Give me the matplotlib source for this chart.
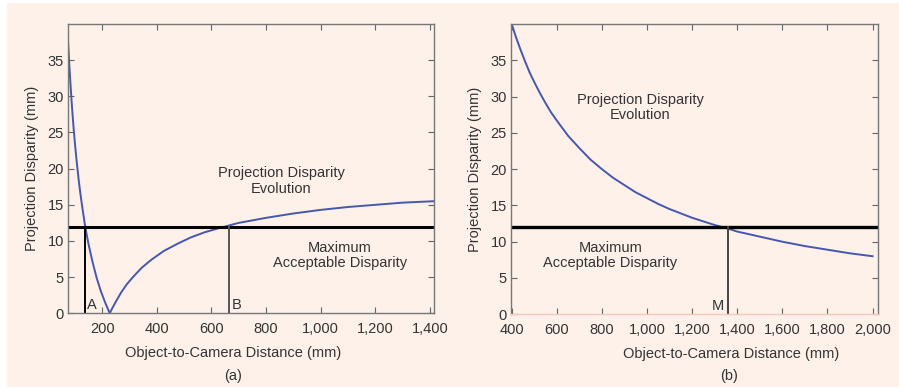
import numpy as np
import matplotlib
matplotlib.use("Agg")
import matplotlib.pyplot as plt
from matplotlib.patches import Rectangle

plt.rcParams['font.family'] = ['Liberation Sans', 'DejaVu Sans']

# panel (a): disparity vs distance, V shaped
dist_a = [75, 80, 85, 90, 95, 100, 105, 110, 115, 120, 125, 130, 136, 140,
          150, 165, 180, 195, 210, 220, 228, 235, 250, 270, 290, 315, 345,
          380, 425, 475, 525, 575, 630, 700, 800, 900, 1000, 1100, 1200,
          1300, 1415]
disp_a = [37.8, 34.3, 31.2, 28.4, 25.9, 23.7, 21.7, 19.9, 18.2, 16.7, 15.3,
          14.0, 12.5, 11.6, 9.6, 7.1, 4.9, 3.1, 1.6, 0.7, 0.0, 0.55, 1.6,
          2.9, 4.0, 5.1, 6.3, 7.4, 8.6, 9.6, 10.5, 11.2, 11.8, 12.5, 13.2,
          13.8, 14.3, 14.7, 15.0, 15.3, 15.5]

# panel (b): decreasing disparity
dist_b = [400, 420, 440, 460, 480, 500, 525, 550, 575, 600, 650, 700, 750,
          800, 850, 900, 950, 1000, 1050, 1100, 1150, 1200, 1250, 1300, 1360,
          1400, 1500, 1600, 1700, 1800, 1900, 2000]
disp_b = [40.0, 38.1, 36.4, 34.8, 33.3, 32.0, 30.5, 29.1, 27.8, 26.7, 24.6,
          22.9, 21.3, 20.0, 18.8, 17.8, 16.8, 16.0, 15.2, 14.5, 13.9, 13.3,
          12.8, 12.3, 11.8, 11.4, 10.7, 10.0, 9.4, 8.9, 8.4, 8.0]

max_disp = 12
point_a = 136
point_b = 665
point_m = 1360

xticks_a = [200, 400, 600, 800, 1000, 1200, 1400]
xticks_b = [400, 600, 800, 1000, 1200, 1400, 1600, 1800, 2000]
yticks = [0, 5, 10, 15, 20, 25, 30, 35]

bg = "#fdf1ea"
blue = "#4657b0"
txt = "#333333"
fs = 10.5

fig = plt.figure(figsize=(8.99, 3.87), dpi=100, facecolor=bg)
fig.patches.append(Rectangle((0, 0), 7 / 899, 1, transform=fig.transFigure,
                             facecolor="white", edgecolor="none", zorder=-1))
fig.patches.append(Rectangle((0, 1 - 3 / 387), 1, 3 / 387, transform=fig.transFigure,
                             facecolor="white", edgecolor="none", zorder=-1))

ax1 = fig.add_axes([0.0756, 0.1904, 0.4072, 0.7476])
ax2 = fig.add_axes([0.5684, 0.1879, 0.4082, 0.7501])


def style(ax, xticks, xlim, xlab_x):
    ax.set_facecolor(bg)
    ax.set_xlim(*xlim)
    ax.set_ylim(0, 40)
    ax.set_xticks(xticks)
    ax.set_xticklabels(["{:,}".format(v) for v in xticks])
    ax.set_yticks(yticks)
    ax.tick_params(direction="in", top=True, right=True, length=4, width=0.8,
                   color="#666666", labelsize=fs, labelcolor=txt)
    ax.tick_params(axis="x", pad=6)
    ax.tick_params(axis="y", pad=3)
    for s in ax.spines.values():
        s.set_color("#777777")
        s.set_linewidth(1.0)
    ax.set_ylabel("Projection Disparity (mm)", fontsize=fs, color=txt, labelpad=6)
    ax.set_xlabel("Object-to-Camera Distance (mm)", fontsize=fs, color=txt)
    ax.xaxis.set_label_coords(xlab_x, -0.113)


style(ax1, xticks_a, (75, 1415), 0.451)
style(ax2, xticks_b, (397, 2024), 0.60)
ax2.spines["bottom"].set_color("#f3c9bd")

# (a)
ax1.plot(dist_a, disp_a, color=blue, lw=1.4)
ax1.axhline(max_disp, color="black", lw=2.2)
ax1.plot([point_a, point_a], [0, max_disp], color="black", lw=1.4)
ax1.plot([point_b, point_b], [0, max_disp], color="#555555", lw=1.4)
ax1.text(point_a + 10, 0.6, "A", fontsize=fs, color=txt)
ax1.text(point_b + 10, 0.6, "B", fontsize=fs, color=txt)
ax1.text(855, 18.3, "Projection Disparity\nEvolution", ha="center", va="center",
         fontsize=fs, color=txt, linespacing=1.1)
ax1.text(1070, 8.0, "Maximum\nAcceptable Disparity", ha="center", va="center",
         fontsize=fs, color=txt, linespacing=1.1)

# (b)
ax2.plot(dist_b, disp_b, color=blue, lw=1.4)
ax2.axhline(max_disp, color="black", lw=2.4)
ax2.plot([point_m, point_m], [0, max_disp], color="#444444", lw=1.4)
ax2.text(point_m - 20, 0.6, "M", fontsize=fs, color=txt, ha="right")
ax2.text(970, 28.5, "Projection Disparity\nEvolution", ha="center", va="center",
         fontsize=fs, color=txt, linespacing=1.1)
ax2.text(838, 8.1, "Maximum\nAcceptable Disparity", ha="center", va="center",
         fontsize=fs, color=txt, linespacing=1.1)

fig.text(233 / 899, 1 - 376 / 387, "(a)", ha="center", va="center", fontsize=fs, color=txt)
fig.text(729 / 899, 1 - 376 / 387, "(b)", ha="center", va="center", fontsize=fs, color=txt)

fig.savefig("out.png", dpi=100, facecolor=bg)
